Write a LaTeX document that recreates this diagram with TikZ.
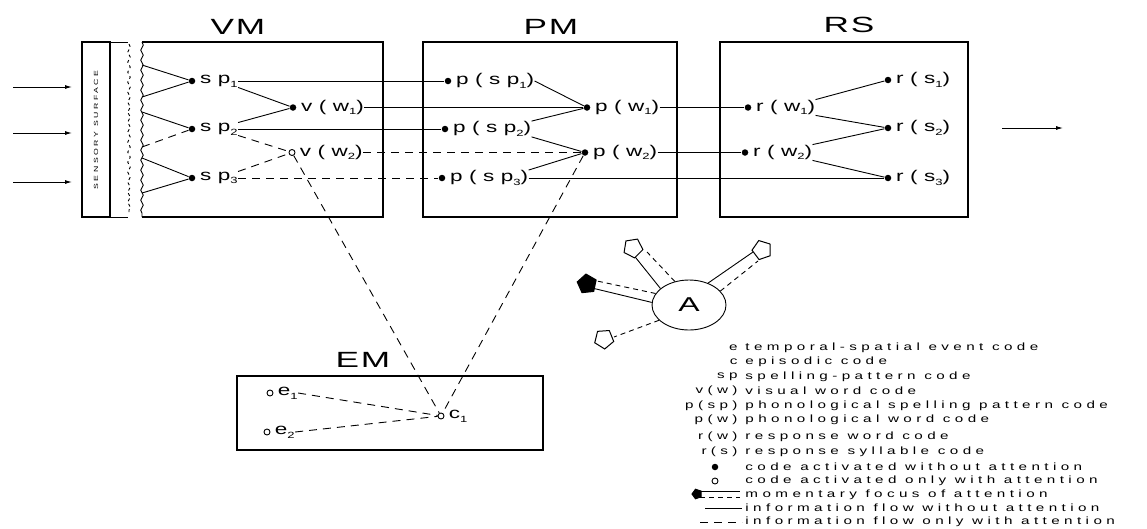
\documentclass[tikz,border=0pt]{standalone}
\usepackage{fontspec}
\setmainfont{Liberation Sans}[FakeStretch=1.45, LetterSpace=42]
\newfontfamily\headfont{Liberation Sans}[FakeStretch=1.6, LetterSpace=8]
\usetikzlibrary{arrows.meta, positioning, shapes.geometric, decorations.pathmorphing, calc}
\newcommand{\lo}[1]{\raisebox{-0.45ex}{\fontsize{9}{9}\selectfont #1}}
\tikzset{
  every picture/.style={line width=0.9pt},
  fdot/.style={circle, fill, inner sep=0pt, minimum size=6.5pt},
  odot/.style={circle, draw, fill=white, inner sep=0pt, minimum size=6pt},
  codelbl/.style={font=\fontsize{15.5}{15.5}\selectfont, inner sep=0pt, right=4pt of #1},
  store/.style={draw, line width=1.1pt, inner sep=0pt},
  title/.style={font=\headfont\fontsize{22}{22}\selectfont},
  attn/.style={dash pattern=on 8pt off 6pt},
  focus/.style={dash pattern=on 5pt off 4pt},
  inarrow/.style={-{Latex[length=7pt, width=4pt]}},
  wave/.style={decorate, decoration={snake, amplitude=1.3pt, segment length=10pt}},
  keytext/.style={font=\fontsize{10.5}{10.5}\selectfont, inner sep=0pt, anchor=west},
  keyab/.style={keytext, anchor=east},
  blockhead/.style={regular polygon, regular polygon sides=5, draw, fill=white, line width=1pt, minimum size=20pt, inner sep=0pt},
}

\begin{document}
\begin{tikzpicture}[x=1pt, y=-1pt]
  \useasboundingbox (0,0) rectangle (1147,528);
  % sensory surface
  \draw[store] (82,42) rectangle (110,217);
  \draw (110,42) -- (128,42) (110,217) -- (128,217);
  \node[rotate=90, font=\fontsize{6}{6}\selectfont] (surf) at (96,130) {SENSORY SURFACE};
  \draw[wave, dashed] (129,44) -- (129,215);
  \foreach \y [count=\i] in {87,133,182} {
    \coordinate (in\i) at (13,\y);
    \coordinate (on\i) at (72,\y);
    \draw[inarrow] (in\i) -- (on\i);
  }
  % stores
  \draw[store] (142,42) -- (383,42) -- (383,217) -- (142,217);
  \draw[wave] (142,42) -- (142,217);
  \node[store, minimum width=254pt, minimum height=175pt] (pm) at (550,129.5) {};
  \node[store, minimum width=248pt, minimum height=175pt] (rs) at (844,129.5) {};
  \node[store, minimum width=306pt, minimum height=74pt] (em) at (390,413) {};
  \node[title] (vmt) at (238,27) {VM};
  \node[title] (pmt) at (551,27) {PM};
  \node[title] (rst) at (849,25) {RS};
  \node[title] (emt) at (363,360) {EM};

  % VM codes
  \node[fdot] (sp1) at (192,81) {};
  \node[fdot] (sp2) at (192,129) {};
  \node[fdot] (sp3) at (192,178) {};
  \node[fdot] (vw1) at (293,107.5) {};
  \node[odot] (vw2) at (292,152.5) {};
  \node[codelbl=sp1] (sp1l) {sp\lo1};
  \node[codelbl=sp2] (sp2l) {sp\lo2};
  \node[codelbl=sp3] (sp3l) {sp\lo3};
  \node[codelbl=vw1] (vw1l) {v(w\lo1)};
  \node[codelbl=vw2] (vw2l) {v(w\lo2)};
  \foreach \n/\ya/\yb/\st in {1/65/97/solid, 2/112/147/attn, 3/158/193/solid} {
    \coordinate (fa\n) at (142,\ya);
    \coordinate (fb\n) at (142,\yb);
    \draw (fa\n) -- (sp\n);
    \draw[\st] (fb\n) -- (sp\n);
  }
  \draw (sp1l.south east) -- (vw1);
  \draw (sp2l.north east) -- (vw1);
  \draw[attn] (sp2l.south east) -- (vw2);
  \draw[attn] (sp3l.north east) -- (vw2);

  % PM codes
  \node[fdot] (psp1) at (448,81) {};
  \node[fdot] (psp2) at (445,129) {};
  \node[fdot] (psp3) at (442,178) {};
  \node[fdot] (pw1) at (587,107.5) {};
  \node[fdot] (pw2) at (585,152.5) {};
  \node[codelbl=psp1] (psp1l) {p(sp\lo1)};
  \node[codelbl=psp2] (psp2l) {p(sp\lo2)};
  \node[codelbl=psp3] (psp3l) {p(sp\lo3)};
  \node[codelbl=pw1] (pw1l) {p(w\lo1)};
  \node[codelbl=pw2] (pw2l) {p(w\lo2)};
  \draw (sp1l.east) -- (psp1);
  \draw (vw1l.east) -- (pw1);
  \draw (sp2l.east) -- (psp2);
  \draw[attn] (vw2l.east) -- (pw2);
  \draw[attn] (sp3l.east) -- (psp3);
  \draw (psp1l.east) -- (pw1);
  \draw (psp2l.north east) -- (pw1);
  \draw (psp2l.south east) -- (pw2);
  \draw (psp3l.north east) -- (pw2);

  % RS codes
  \node[fdot] (rw1) at (748,107.5) {};
  \node[fdot] (rw2) at (745,152.5) {};
  \node[fdot] (rs1) at (888,80) {};
  \node[fdot] (rs2) at (888,128) {};
  \node[fdot] (rs3) at (888,178) {};
  \node[codelbl=rw1] (rw1l) {r(w\lo1)};
  \node[codelbl=rw2] (rw2l) {r(w\lo2)};
  \node[codelbl=rs1] (rs1l) {r(s\lo1)};
  \node[codelbl=rs2] (rs2l) {r(s\lo2)};
  \node[codelbl=rs3] (rs3l) {r(s\lo3)};
  \draw (pw1l.east) -- (rw1);
  \draw (pw2l.east) -- (rw2);
  \draw (psp3l.east) -- (rs3);
  \draw (rw1l.north east) -- (rs1);
  \draw (rw1l.south east) -- (rs2);
  \draw (rw2l.north east) -- (rs2);
  \draw (rw2l.south east) -- (rs3);
  \coordinate (out1) at (1002,128);
  \coordinate (out2) at (1063,128);
  \draw[inarrow] (out1) -- (out2);

  % EM codes
  \node[odot] (e1) at (270,393) {};
  \node[odot] (e2) at (267,432) {};
  \node[odot] (c1) at (441,416) {};
  \node[codelbl=e1] (e1l) {e\lo1};
  \node[codelbl=e2] (e2l) {e\lo2};
  \node[codelbl=c1] (c1l) {c\lo1};
  \draw[attn] (e1l.east) -- (c1);
  \draw[attn] (e2l.east) -- (c1);
  \draw[attn] (vw2) -- (c1);
  \draw[attn] (pw2) -- (c1);

  % attention
  \node[draw, ellipse, minimum width=74pt, minimum height=50pt, font=\headfont\fontsize{20}{20}\selectfont] (att) at (689,305) {A};
  \coordinate (hl) at (587,284);
  \coordinate (hul) at (633,248);
  \coordinate (hur) at (762,250);
  \coordinate (hll) at (604,339);
  \draw (att.176) -- ($(hl)+(5,4)$);
  \draw[focus] (att.161) -- ($(hl)+(10,-3)$);
  \draw (att.150) -- ($(hul)+(-1,5)$);
  \draw[focus] (att.121) -- ($(hul)+(14,4)$);
  \draw (att.49) -- ($(hur)+(-9,2)$);
  \draw[focus] (att.24) -- ($(hur)+(-4,11)$);
  \draw[focus] (att.207) -- ($(hll)+(10,-2)$);
  \node[blockhead, fill=black, rotate=78] (hdl) at (hl) {};
  \node[blockhead, rotate=45] (hdul) at (hul) {};
  \node[blockhead, rotate=-53] (hdur) at (hur) {};
  \node[blockhead, rotate=112] (hdll) at (hll) {};

  % key
  \foreach \ab/\tx/\y [count=\i] in {e/temporal-spatial event code/348, c/episodic code/362, sp/spelling-pattern code/377, v(w)/visual word code/391, p(sp)/phonological spelling pattern code/406, p(w)/phonological word code/420, r(w)/response word code/437, r(s)/response syllable code/452} {
    \node[keyab] (ab\i) at (738,\y) {\ab};
    \node[keytext] (kt\i) at (745,\y) {\tx};
  }
  \foreach \tx/\y [count=\i from 9] in {code activated without attention/467, code activated only with attention/481, momentary focus of attention/495, information flow without attention/508, information flow only with attention/522} {
    \node[keytext] (kt\i) at (745,\y) {\tx};
  }
  \node[fdot] (kfd) at (715,467) {};
  \node[odot] (kod) at (715,481) {};
  \node[blockhead, fill=black, minimum size=10pt, rotate=90] (kh) at (697,494) {};
  \draw ($(kh)+(3,-3)$) -- ++(40,0);
  \draw[focus] ($(kh)+(3,3)$) -- ++(40,0);
  \draw (705,508) -- (742,508);
  \draw[attn] (700,522) -- (742,522);
\end{tikzpicture}
\end{document}
